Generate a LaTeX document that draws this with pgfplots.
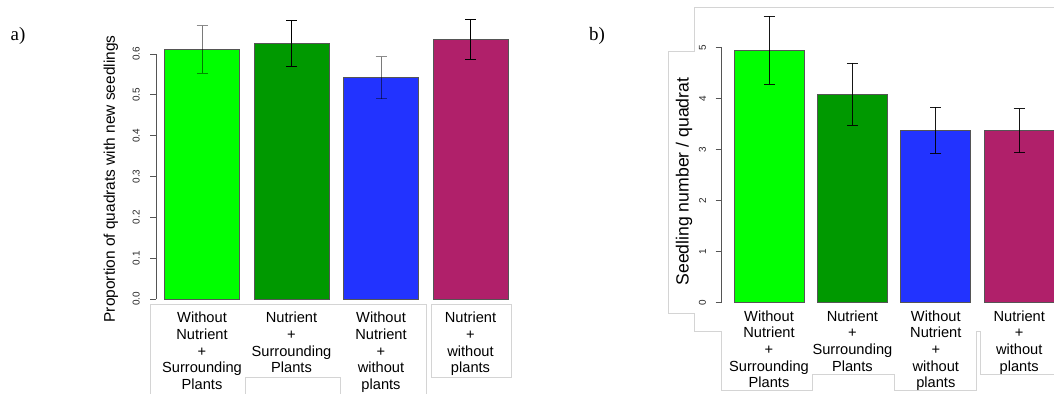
\documentclass[border=0pt]{standalone}
\usepackage{pgfplots}
\pgfplotsset{compat=1.18}
\usepackage{fontspec}
\setmainfont{Liberation Sans}
\newfontfamily\seriffont{Liberation Serif}
\definecolor{cA}{HTML}{00FF00}
\definecolor{cB}{HTML}{009900}
\definecolor{cC}{HTML}{2233FF}
\definecolor{cD}{HTML}{B0206A}
\definecolor{edge}{HTML}{555555}
\definecolor{art}{HTML}{D4D4D4}
\pgfplotsset{
  mybar/.style={
    scale only axis, ybar, bar shift=0pt, clip=false, ymin=0,
    axis x line*=bottom, axis y line*=left,
    x axis line style={draw=none},
    y axis line style={draw=edge, line width=0.8bp},
    xtick={0,1,2,3},
    major x tick style={draw=none},
    ytick style={draw=edge, line width=0.8bp},
    tick align=outside, major tick length=6bp,
    xticklabels={Without\\Nutrient\\+\\Surrounding\\Plants, Nutrient\\+\\Surrounding\\Plants, Without\\Nutrient\\+\\without\\plants, Nutrient\\+\\without\\plants},
    xticklabel style={align=center, anchor=north, inner sep=0pt, font=\fontsize{14.7}{16.7}\selectfont},
    yticklabel style={rotate=90, anchor=south, inner sep=0pt, font=\fontsize{10}{11}\selectfont, text=black!85},
    ylabel style={anchor=center},
  },
  bstyle/.style={draw=edge, line width=0.8bp, fill=#1},
  ebar/.style={error bars/.cd, y dir=both, y explicit,
    error bar style={black, line width=0.8bp, draw opacity=#1},
    error mark options={rotate=90, mark size=5.5bp, black, line width=0.8bp, draw opacity=#1}},
}
\begin{document}
\begin{tikzpicture}
% light grey frame remnants
\begin{scope}[x=1bp, y=1bp, draw=art, line width=0.8bp]
\draw (150,0)--(150,90)--(426,90)--(426,0);
\draw (245.7,0)--(245.7,17)--(340.7,17)--(340.7,0);
\draw (431,17) rectangle (511.7,90);
\draw (1054,386.7)--(694.3,386.7)--(694.3,342.3)--(668.3,342.3)--(668.3,81)--(694.3,81)--(694.3,63)--(721.7,63)--(721.7,4)--(812.3,4)--(812.3,19.7)--(894.3,19.7)--(894.3,4)--(976,4)--(976,63)--(980.7,63)--(980.7,19.7)--(1054,19.7);
\end{scope}

\begin{axis}[mybar, at={(156bp,95bp)}, anchor=south west,
  width=364bp, height=245bp,
  xmin=-0.514, xmax=3.553, ymax=0.6,
  bar width=75bp,
  ytick={0,0.1,0.2,0.3,0.4,0.5,0.6},
  yticklabels={0.0,0.1,0.2,0.3,0.4,0.5,0.6},
  xticklabel style={yshift=-7bp},
  yticklabel style={yshift=10bp},
  ylabel={Proportion of quadrats with new seedlings},
  ylabel style={at={(axis description cs:-0.124,0.49)}, font=\fontsize{15.5}{18}\selectfont},
]
\addplot[bstyle=cA, ebar=0.45] coordinates {(0,0.6115) +- (0,0.058)};
\addplot[bstyle=cB, ebar=1] coordinates {(1,0.626) +- (0,0.057)};
\addplot[bstyle=cC, ebar=0.45] coordinates {(2,0.542) +- (0,0.051)};
\addplot[bstyle=cD, ebar=1] coordinates {(3,0.636) +- (0,0.049)};
\end{axis}

\begin{axis}[mybar, at={(721.7bp,91.7bp)}, anchor=south west,
  width=332.3bp, height=254.6bp,
  xmin=-0.567, xmax=3.417, ymax=5,
  bar width=70bp,
  ytick={0,1,2,3,4,5},
  yticklabels={0,1,2,3,4,5},
  xticklabel style={yshift=-2bp},
  yticklabel style={yshift=9.5bp},
  ylabel={Seedling number / quadrat},
  ylabel style={at={(axis description cs:-0.1135,0.474)}, font=\fontsize{17.7}{20}\selectfont},
]
\addplot[bstyle=cA, ebar=0.9] coordinates {(0,4.95) +- (0,0.67)};
\addplot[bstyle=cB, ebar=0.9] coordinates {(1,4.09) +- (0,0.61)};
\addplot[bstyle=cC, ebar=0.9] coordinates {(2,3.38) +- (0,0.45)};
\addplot[bstyle=cD, ebar=0.9] coordinates {(3,3.37) +- (0,0.43)};
\end{axis}

\node[font=\seriffont\fontsize{19}{22}\selectfont] at (18bp,358bp) {a)};
\node[font=\seriffont\fontsize{19}{22}\selectfont] at (597bp,358bp) {b)};

\pgfresetboundingbox
\path[use as bounding box] (0,0) rectangle (1054bp,394bp);
\end{tikzpicture}
\end{document}
